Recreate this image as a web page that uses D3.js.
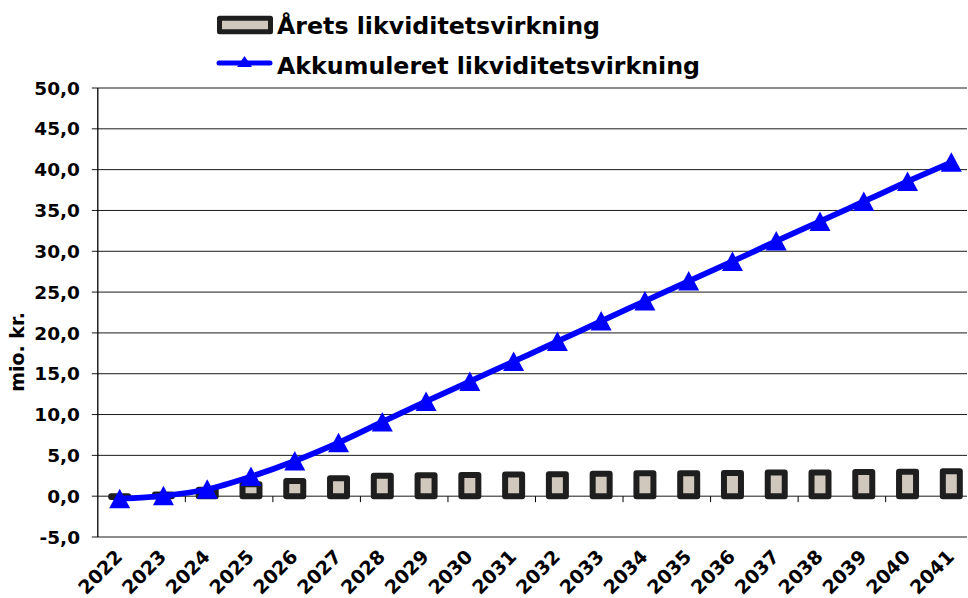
<!DOCTYPE html>
<html>
<head>
<meta charset="utf-8">
<script src="https://cdn.jsdelivr.net/npm/d3@7"></script>
<style>
  html, body { margin: 0; padding: 0; background: #fff; }
  svg { display: block; }
  text { font-family: Verdana, "DejaVu Sans", sans-serif; font-weight: bold; fill: #000; }
</style>
</head>
<body>
<svg id="chart" width="968" height="598"></svg>
<script>
const years = ["2022","2023","2024","2025","2026","2027","2028","2029","2030","2031",
               "2032","2033","2034","2035","2036","2037","2038","2039","2040","2041"];
const annual = [-0.1, 0.2, 0.8, 1.45, 1.85, 2.2, 2.5, 2.55, 2.6, 2.65,
                2.7, 2.75, 2.8, 2.8, 2.85, 2.9, 2.9, 2.95, 3.0, 3.05];
const accumulated = [-0.3, 0.05, 0.85, 2.4, 4.3, 6.55, 9.1, 11.6, 14.05, 16.5,
                     18.95, 21.45, 23.9, 26.35, 28.75, 31.25, 33.65, 36.1, 38.55, 40.9];
const yTicks = [-5, 0, 5, 10, 15, 20, 25, 30, 35, 40, 45, 50];
const seriesNames = ["Årets likviditetsvirkning", "Akkumuleret likviditetsvirkning"];
const yTitle = "mio. kr.";

(function () {
const svg = d3.select("#chart");
const pLeft = 97.8, pRight = 973.2, pTop = 88, pBottom = 537;

const x = d3.scaleBand().domain(years).range([pLeft, pRight]).padding(0);
const y = d3.scaleLinear().domain([-5, 50]).range([pBottom, pTop]);
const fmt = v => d3.format(".1f")(v).replace(".", ",").replace("−", "-");

// gridlines
svg.append("g").selectAll("line").data(yTicks).join("line")
  .attr("x1", pLeft - 6).attr("x2", 967)
  .attr("y1", d => y(d)).attr("y2", d => y(d))
  .attr("stroke", "#1a1a1a").attr("stroke-width", 1);

// y axis line
svg.append("line").attr("x1", pLeft).attr("x2", pLeft).attr("y1", pTop).attr("y2", pBottom)
  .attr("stroke", "#000").attr("stroke-width", 1.3);

// x ticks every 2 categories at band boundaries, hanging below zero line
const tickIdx = d3.range(2, years.length, 2);
svg.append("g").selectAll("line").data(tickIdx).join("line")
  .attr("x1", i => pLeft + i * x.bandwidth()).attr("x2", i => pLeft + i * x.bandwidth())
  .attr("y1", y(0)).attr("y2", y(0) + 6)
  .attr("stroke", "#000").attr("stroke-width", 1);

// y tick labels
svg.append("g").selectAll("text").data(yTicks).join("text")
  .attr("x", 80).attr("y", d => y(d)).attr("dy", "0.36em")
  .attr("text-anchor", "end").attr("font-size", 18.5)
  .text(d => fmt(d));

// y title
svg.append("text")
  .attr("transform", "translate(24,352) rotate(-90)")
  .attr("text-anchor", "middle").attr("font-size", 19)
  .text(yTitle);

// x labels
svg.append("g").selectAll("text").data(years).join("text")
  .attr("transform", d => `translate(${x(d) + x.bandwidth() / 2 + 4},558) rotate(-45)`)
  .attr("text-anchor", "end").attr("font-size", 19)
  .text(d => d);

// bars
const barW = 17;
svg.append("g").selectAll("rect").data(years).join("rect")
  .attr("x", d => x(d) + x.bandwidth() / 2 - barW / 2)
  .attr("width", barW)
  .attr("y", (d, i) => Math.min(y(annual[i]), y(0)))
  .attr("height", (d, i) => Math.max(0.01, Math.abs(y(annual[i]) - y(0))))
  .attr("fill", "#d0c8bd").attr("stroke", "#1e1e1e").attr("stroke-width", 6)
  .attr("stroke-linejoin", "round");

// line
const line = d3.line()
  .x((d, i) => x(years[i]) + x.bandwidth() / 2)
  .y(d => y(d))
  .curve(d3.curveCatmullRom.alpha(0.5));
svg.append("path").datum(accumulated).attr("d", line)
  .attr("fill", "none").attr("stroke", "#0000ff").attr("stroke-width", 5.8)
  .attr("stroke-linejoin", "round");

const tri = "M0,-10L10.5,9.5L-10.5,9.5Z";
svg.append("g").selectAll("path").data(accumulated).join("path")
  .attr("transform", (d, i) => `translate(${x(years[i]) + x.bandwidth() / 2},${y(d)})`)
  .attr("d", tri).attr("fill", "#0000ff");

// legend
const lg = svg.append("g");
lg.append("rect").attr("x", 219.5).attr("y", 18.3).attr("width", 51).attr("height", 13.4)
  .attr("fill", "#d0c8bd").attr("stroke", "#1e1e1e").attr("stroke-width", 5)
  .attr("stroke-linejoin", "round");
lg.append("text").attr("x", 277).attr("y", 33.5).attr("font-size", 23.7).text(seriesNames[0]);
lg.append("line").attr("x1", 219).attr("x2", 270).attr("y1", 63).attr("y2", 63)
  .attr("stroke", "#0000ff").attr("stroke-width", 5).attr("stroke-linecap", "round");
lg.append("path").attr("transform", "translate(244.5,62)").attr("d", "M0,-6L7.5,5L-7.5,5Z")
  .attr("fill", "#0000ff");
lg.append("text").attr("x", 277).attr("y", 74).attr("font-size", 23.7).text(seriesNames[1]);
})();
</script>
</body>
</html>
